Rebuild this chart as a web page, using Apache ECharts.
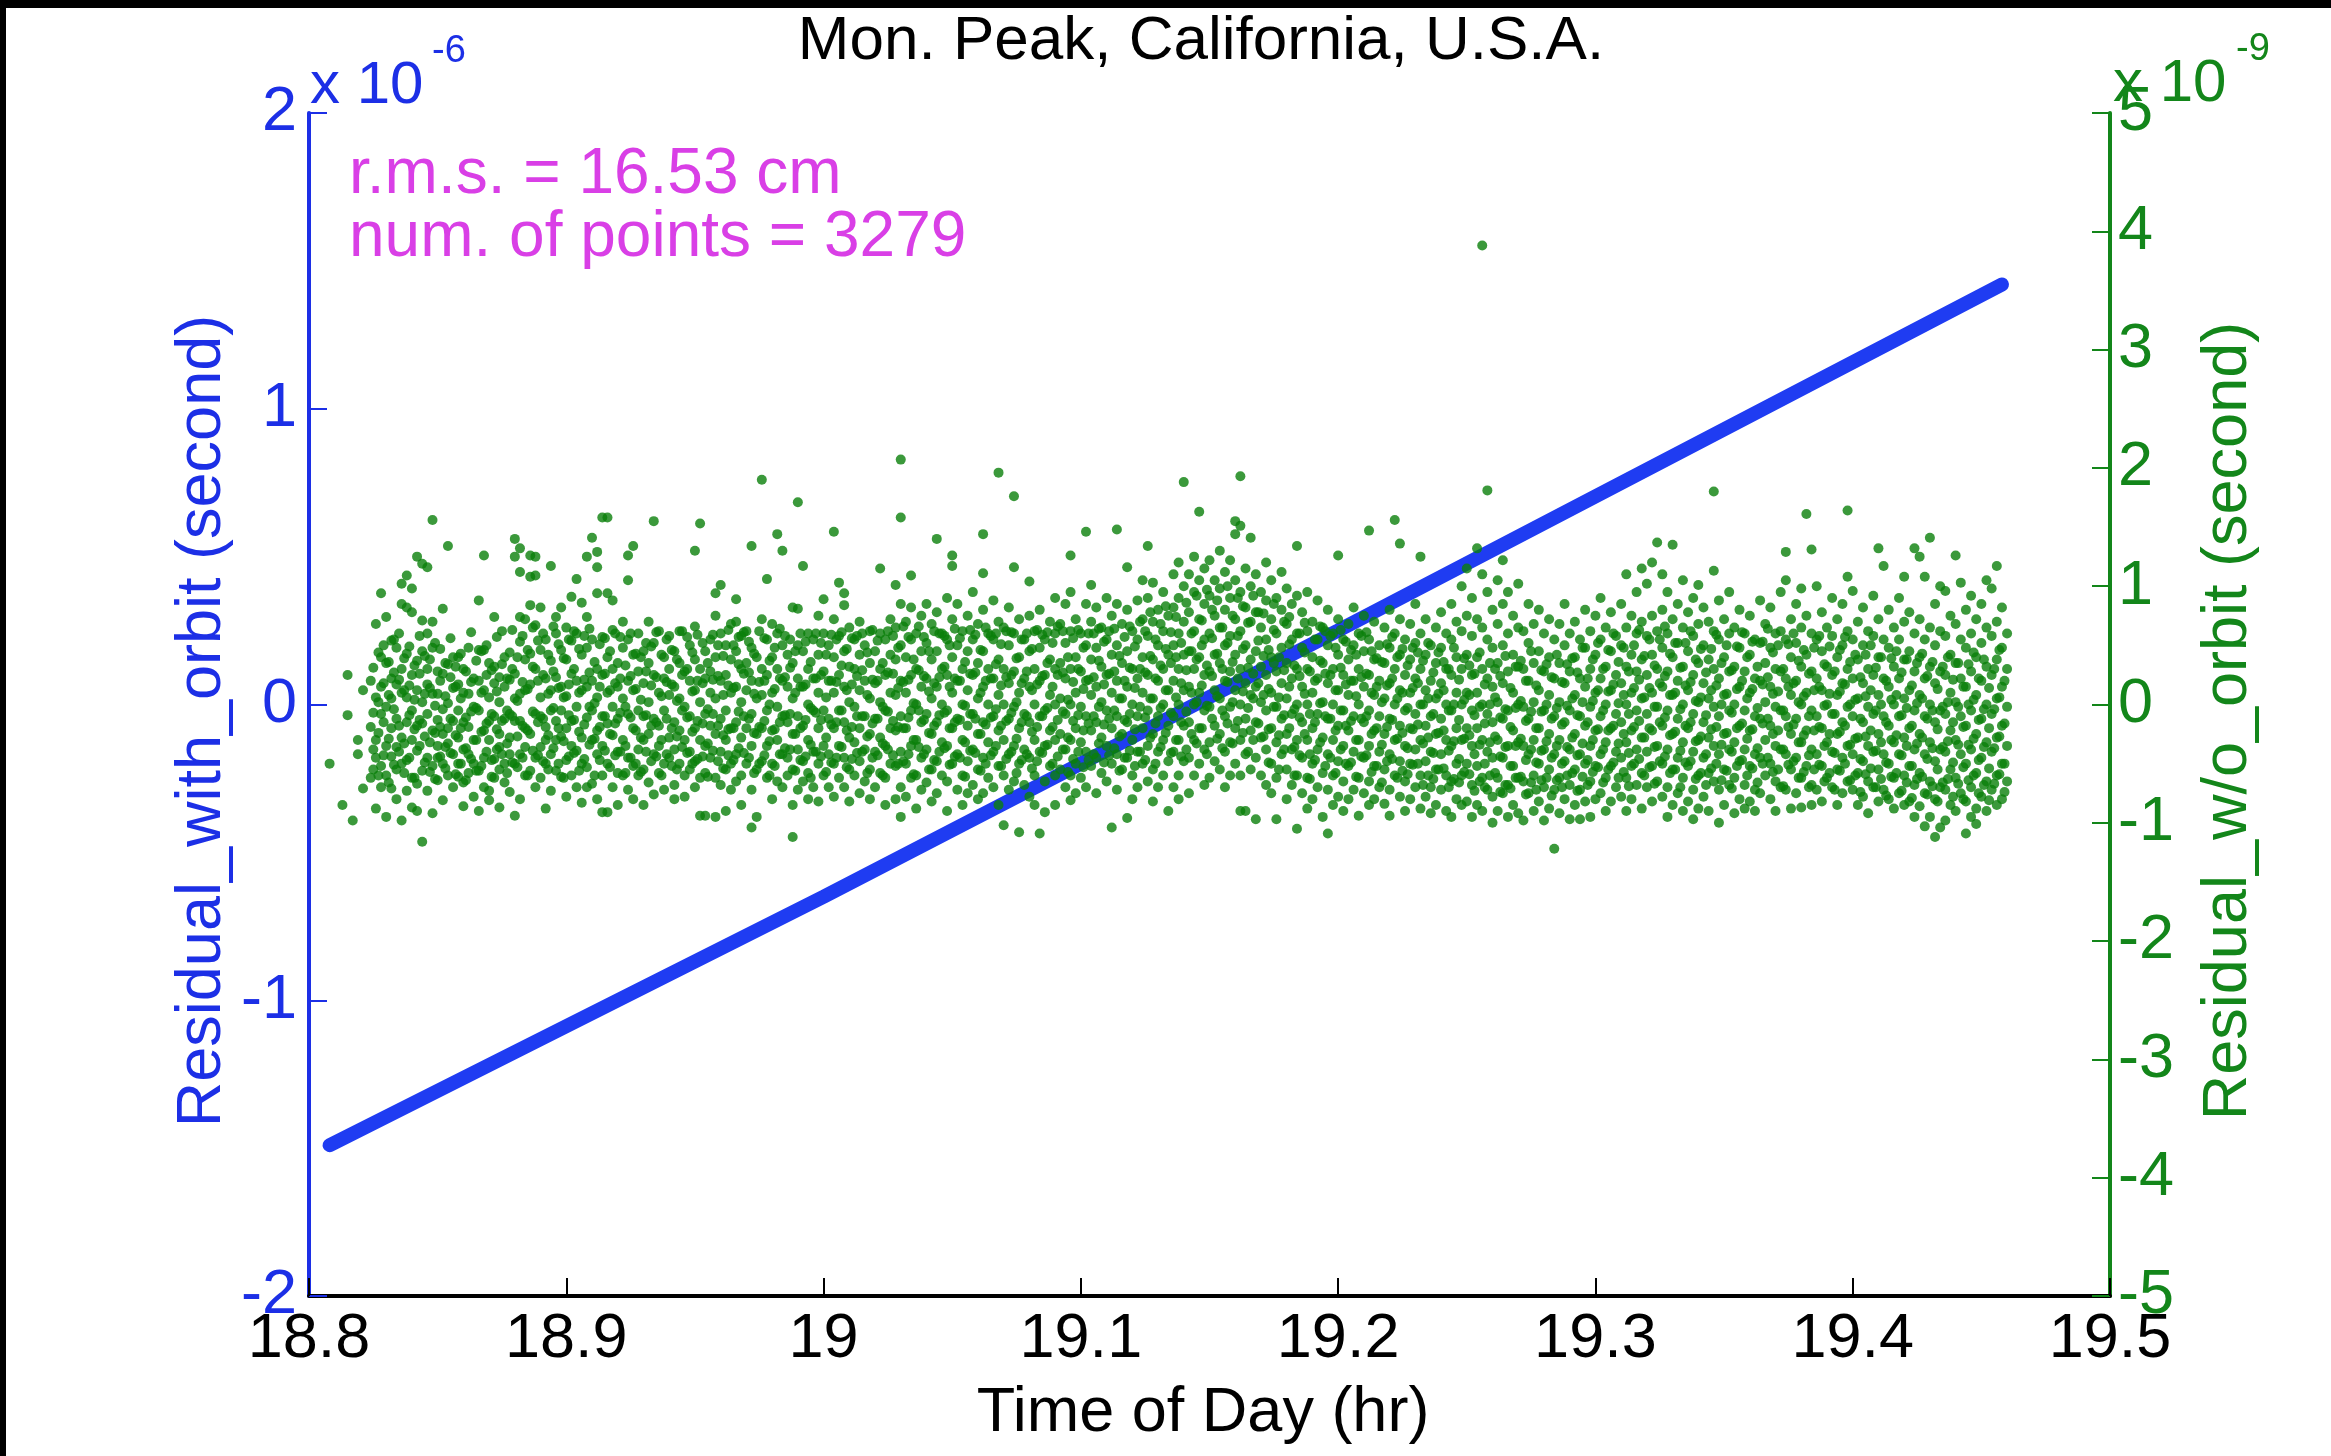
<!DOCTYPE html>
<html><head><meta charset="utf-8">
<script src="https://cdn.jsdelivr.net/npm/echarts/dist/echarts.min.js"></script>
<style>html,body{margin:0;padding:0;background:#fff}#c{width:2331px;height:1456px}</style>
</head><body><div id="c"></div>
<script>
// ---- data ----
const titleText = 'Mon. Peak, California, U.S.A.';
const xAxisName = 'Time of Day (hr)';
const leftAxisName = 'Residual_with_orbit (second)';
const rightAxisName = 'Residual_w/o_orbit (second)';
const xTickValues = [18.8, 18.9, 19, 19.1, 19.2, 19.3, 19.4, 19.5];      // hr
const leftTickValues = [-2, -1, 0, 1, 2];                                  // x 1e-6 s
const rightTickValues = [-5, -4, -3, -2, -1, 0, 1, 2, 3, 4, 5];            // x 1e-9 s
const statsLines = ['r.m.s. = 16.53 cm', 'num. of points = 3279'];

// residual with orbit (x 1e-6 s) vs time of day (hr)
const withOrbitTimeHr = [18.808, 19.0, 19.2, 19.458];
const withOrbitResidualUs = [-1.49, -0.65, 0.25, 1.42];

// residual without orbit (x 1e-9 s): [time hr, [residuals read at that time]]
const woOrbit_18_8 = [
[18.808,[-.5]],[18.813,[-.85]],[18.815,[.25,-.09]],[18.817,[-.98]],[18.819,[-.42,-.3]],[18.821,[.12,-.71]],
[18.824,[.2,-.19,-.62]],[18.826,[.68,.06,-.45,-.3,-.88]],[18.828,[.94,.4,.15,-.08,-.7,-.52]],[18.830,[.74,.35,-.02,-.35,-.95,-.6]],
[18.832,[.54,.22,.05,-.2,-.71,-.44]],[18.834,[.48,.17,-.12,-.36,-.55,-.8]],[18.836,[1.02,.85,.3,.1,-.28,-.98,-.5]],
[18.838,[1.09,.82,.43,.06,-.15,-.47,-.73]],[18.840,[.98,.78,.25,-.05,-.3,-.62,-.87]],[18.842,[1.25,.37,.12,-.39,-.18,-.67,-.9]],
[18.844,[1.19,.71,.45,.02,-.16,-.56,-1.16]],[18.846,[1.16,.6,.3,.17,-.08,-.73,-.45]],[18.848,[1.56,.7,.48,.09,-.22,-.52,-.92]],
[18.850,[.28,.09,-.13,-.45,-.64,-.35]],[18.852,[.81,.26,-.04,-.25,-.5,-.81]],[18.854,[1.34,.34,.01,-.33,-.6,-.2]],
[18.856,[.4,.14,-.14,-.42,-.7]],[18.858,[.4,.17,-.05,-.5,-.61,-.28]],[18.860,[.3,.1,-.15,-.38,-.66,-.86]],
[18.862,[.48,.09,-.19,-.42,-.58]],[18.864,[.22,-.02,-.3,-.78,-.5]],[18.866,[.88,.46,.2,-.05,-.56,-.9]],
[18.868,[1.26,.46,.12,-.22,-.45,-.7]],[18.870,[.06,-.14,-.3,-.73,-.81,.35]],[18.872,[.74,.32,.18,-.1,-.46,-.62]],
[18.874,[.23,-.25,-.36,-.87,.02,-.55]],[18.876,[.4,.15,-.12,-.5,-.66]],[18.878,[.44,.21,-.08,-.28,-.42,-.74]],
[18.880,[1.4,1.25,.26,.05,-.14,-.5,-.94]],[18.882,[1.32,1.12,.74,.53,.09,-.14,-.42,-.8]],[18.884,[.72,.38,.12,-.2,-.36,-.6]],
[18.886,[1.26,1.08,.84,.43,.17,-.25,-.56]],[18.888,[1.25,1.09,.67,.3,-.08,-.45,-.7]],[18.890,[.82,.46,.06,-.1,-.36,-.62]],
[18.892,[.55,.22,-.19,-.3,-.5,-.88]],[18.894,[1.17,.37,.12,-.05,-.42,-.73]],[18.896,[.74,.6,.23,-.14,-.56,-.3]],
[18.898,[.82,.46,.15,-.05,-.27,-.61]],[18.900,[.65,.38,.07,-.2,-.47,-.78]],
[18.825,[.31,-.07,-.38,-.55]],[18.827,[.44,.02,-.24,-.6]],[18.829,[.18,-.15,-.43,.5]],[18.831,[.36,.08,-.29,-.66]],
[18.833,[.27,-.04,-.51,.55]],[18.835,[.6,.21,-.18,-.4]],[18.837,[.12,-.33,-.58,.39]],[18.839,[.49,.16,-.09,-.45]],
[18.841,[.33,-.21,-.62,.04]],[18.843,[.58,.26,-.13,-.35]],[18.845,[.09,-.27,-.49,.41]],[18.847,[.38,.14,-.32,-.57]],
[18.849,[.52,-.01,-.24,-.63]],[18.851,[.2,-.19,-.44,.47]],[18.853,[.35,.07,-.36,-.54]],[18.855,[.56,.23,-.12,-.41]],
[18.857,[.15,-.26,-.59,.32]],[18.859,[.43,.05,-.2,-.5]],[18.861,[.28,-.11,-.37,-.64]],[18.863,[.61,.19,-.06,-.46]],
[18.865,[.37,-.03,-.3,-.56]],[18.867,[.1,-.23,-.52,.45]],[18.869,[.5,.25,-.16,-.4]],[18.871,[.29,-.08,-.47,-.61]],
[18.873,[.57,.11,-.21,-.38]],[18.875,[.34,-.14,-.42,.62]],[18.877,[.22,-.05,-.33,-.58]],[18.879,[.63,.3,-.1,-.49]],
[18.881,[.4,.03,-.27,-.53]],[18.883,[.19,-.18,-.45,.58]],[18.885,[.46,.13,-.22,-.6]],[18.887,[.32,-.06,-.39,.65]],
[18.889,[.54,.2,-.15,-.43]],[18.891,[.25,-.12,-.48,.6]],[18.893,[.42,.09,-.26,-.55]],[18.895,[.66,.28,-.03,-.37]],
[18.897,[.14,-.2,-.5,.51]],[18.899,[.39,.06,-.31,-.62]]
];
const woOrbit_18_9 = [
[18.902,[.91,.54,.26,-.14,-.35,-.6]],[18.904,[1.06,.6,.2,-.02,-.39,-.7]],[18.906,[.86,.42,.12,-.28,-.5,-.83]],
[18.908,[1.25,.74,.48,.15,-.11,-.53,-.7]],[18.910,[1.41,.55,.2,-.05,-.3,-.67]],[18.912,[1.29,1.16,.94,.3,.06,-.22,-.42,-.8]],
[18.914,[1.58,.57,.25,-.1,-.35,-.91,-.6]],[18.916,[1.58,.94,.4,.1,-.16,-.5,-.91]],[18.918,[.88,.63,.3,-.02,-.26,-.7]],
[18.920,[.35,.15,-.12,-.4,-.58,-.85]],[18.922,[.7,.48,.05,-.3,-.6]],[18.924,[1.26,1.05,.55,.2,-.08,-.45,-.72]],
[18.926,[1.34,.42,.12,-.2,-.52,-.8]],[18.928,[.6,.28,-.05,-.38,-.6]],[18.930,[.45,.18,-.1,-.3,-.55,-.85]],
[18.932,[.7,.35,.02,-.25,-.66]],[18.934,[1.55,.52,.25,-.12,-.42,-.76]],[18.936,[.62,.1,-.18,-.35,-.58]],
[18.938,[.4,.22,-.05,-.5,-.72]],[18.940,[.58,.3,.08,-.28,-.45]],[18.942,[.45,.15,-.15,-.38,-.68,-.8]],
[18.944,[.62,.35,.05,-.22,-.5]],[18.946,[.28,-.02,-.3,-.6,-.78]],[18.948,[.5,.2,-.1,-.4,-.55]],
[18.950,[1.3,.66,.38,.12,-.2,-.48,-.7]],[18.952,[1.53,.3,.02,-.3,-.62,-.94]],[18.954,[.45,.22,-.08,-.35,-.58,-.94]],
[18.956,[.55,.28,.1,-.18,-.45]],[18.958,[.94,.75,.4,.05,-.25,-.62,-.95]],[18.960,[1.01,.6,.2,-.12,-.4,-.68]],
[18.962,[.5,.25,-.05,-.3,-.55,-.9]],[18.964,[.68,.38,.1,-.2,-.5,-.72]],[18.966,[.89,.7,.45,.15,-.15,-.42,-.65]],
[18.968,[.58,.3,.02,-.28,-.6,-.85]],[18.970,[.62,.35,.12,-.2,-.5]],[18.972,[1.34,.48,.2,-.08,-.35,-.72,-1.04]],
[18.974,[.4,.05,-.25,-.55,-.95]],[18.976,[1.9,.72,.3,.08,-.2,-.48]],[18.978,[1.06,.55,.25,-.05,-.35,-.62]],
[18.980,[.68,.4,.1,-.22,-.5,-.8]],[18.982,[1.44,.6,.3,-.02,-.3,-.65]],[18.984,[1.3,.5,.2,-.1,-.42,-.7]],
[18.986,[.42,.15,-.15,-.45,-.6]],[18.988,[.82,.35,.05,-.25,-.55,-.85,-1.12]],[18.990,[1.71,.81,.5,.22,-.1,-.38,-.72]],
[18.992,[1.17,.45,.15,-.18,-.48,-.65]],[18.994,[.6,.3,0,-.3,-.58,-.8]],[18.996,[.55,.22,-.05,-.4,-.7]],
[18.998,[.75,.42,.1,-.2,-.5,-.82]],[19.000,[.89,.6,.28,-.05,-.35,-.6]],
[18.901,[.55,.17,-.09,-.44]],[18.903,[.3,-.13,-.41,.62]],[18.905,[.47,.1,-.23,-.56]],[18.907,[.21,-.17,-.46,.58]],
[18.909,[.64,.27,-.02,-.34]],[18.911,[.36,.01,-.29,-.6]],[18.913,[.51,.15,-.19,-.47]],[18.915,[.26,-.1,-.39,.56]],
[18.917,[.45,.12,-.25,-.53]],[18.919,[.18,-.16,-.43,.6]],[18.921,[.57,.22,-.07,-.4]],[18.923,[.33,-.02,-.35,-.58]],
[18.925,[.6,.24,-.11,-.45]],[18.927,[.13,-.22,-.5,.43]],[18.929,[.4,.04,-.28,-.57]],[18.931,[.28,-.09,-.4,.52]],
[18.933,[.49,.16,-.18,-.48]],[18.935,[.23,-.15,-.44,.61]],[18.937,[.42,.07,-.3,-.6]],[18.939,[.55,.19,-.12,-.42]],
[18.941,[.17,-.2,-.52,.46]],[18.943,[.38,.03,-.27,-.55]],[18.945,[.62,.25,-.05,-.36]],[18.947,[.3,-.11,-.41,.57]],
[18.949,[.44,.11,-.23,-.5]],[18.951,[.2,-.14,-.46,.59]],[18.953,[.52,.18,-.16,-.44]],[18.955,[.35,-.04,-.33,-.61]],
[18.957,[.59,.21,-.08,-.39]],[18.959,[.24,-.18,-.48,.5]],[18.961,[.41,.08,-.26,-.54]],[18.963,[.16,-.21,-.43,.63]],
[18.965,[.5,.14,-.2,-.47]],[18.967,[.34,-.06,-.37,.57]],[18.969,[.61,.26,-.1,-.41]],[18.971,[.27,-.12,-.45,.53]],
[18.973,[.43,.09,-.24,-.58]],[18.975,[.19,-.19,-.5,.62]],[18.977,[.56,.2,-.14,-.43]],[18.979,[.37,0,-.31,-.6]],
[18.981,[.48,.13,-.21,-.52]],[18.983,[.22,-.15,-.42,.64]],[18.985,[.58,.23,-.09,-.37]],[18.987,[.31,-.08,-.38,.55]],
[18.989,[.45,.1,-.25,-.56]],[18.991,[.15,-.2,-.47,.6]],[18.993,[.53,.17,-.13,-.44]],[18.995,[.36,-.03,-.34,-.62]],
[18.997,[.6,.22,-.07,-.4]],[18.999,[.25,-.13,-.44,.52]]
];
const woOrbit_19_0 = [
[19.002,[.5,.2,-.12,-.42,-.7]],[19.004,[1.46,.72,.4,.1,-.2,-.5,-.78]],[19.006,[1.03,.58,.25,-.05,-.35,-.62]],
[19.008,[.94,.84,.45,.15,-.15,-.45,-.7]],[19.010,[.65,.32,.02,-.28,-.55,-.82]],[19.012,[.55,.3,-.02,-.32,-.6]],
[19.014,[.7,.42,.12,-.2,-.48,-.75]],[19.016,[.5,.2,-.1,-.38,-.65]],[19.018,[.62,.35,.05,-.25,-.55,-.8]],
[19.020,[.45,.18,-.12,-.4,-.7]],[19.022,[1.15,.6,.3,.02,-.28,-.58]],[19.024,[.55,.25,-.05,-.35,-.62,-.85]],
[19.026,[.72,.42,.1,-.2,-.5]],[19.028,[1.01,.65,.38,.08,-.22,-.52,-.8]],[19.030,[2.07,1.58,.85,.5,.2,-.1,-.4,-.7,-.95]],
[19.032,[.7,.4,.1,-.2,-.5,-.78]],[19.034,[1.09,.82,.55,.25,-.05,-.35,-.62]],[19.036,[.6,.3,0,-.3,-.6,-.88]],
[19.038,[.75,.45,.15,-.15,-.45,-.72]],[19.040,[.85,.52,.22,-.08,-.38,-.66]],[19.042,[.68,.38,.05,-.25,-.55,-.82]],
[19.044,[1.4,.78,.45,.15,-.15,-.48,-.75]],[19.046,[.6,.3,0,-.32,-.6]],[19.048,[.9,.55,.25,-.05,-.35,-.65,-.9]],
[19.050,[1.26,1.17,.72,.4,.1,-.2,-.5]],[19.052,[.85,.5,.2,-.12,-.42,-.72]],[19.054,[.62,.3,0,-.3,-.6,-.85]],
[19.056,[.75,.45,.12,-.18,-.48,-.75]],[19.058,[.95,.55,.25,-.08,-.38,-.68]],[19.060,[.68,.35,.05,-.25,-.55,-.8]],
[19.062,[1.44,1.11,.8,.45,.15,-.15,-.45,-.75]],[19.064,[.6,.3,0,-.32,-.62]],[19.066,[.88,.55,.22,-.1,-.4,-.7]],
[19.068,[1.96,.7,.38,.08,-.22,-.52,-.85]],[19.070,[.65,.3,0,-.3,-.6,-1.02]],[19.072,[.82,.5,.18,-.12,-.42,-.72]],
[19.074,[1.76,1.16,.6,.28,-.02,-.35,-.65]],[19.076,[.72,.4,.1,-.2,-.5,-1.08]],[19.078,[.55,.22,-.08,-.38,-.68]],
[19.080,[1.04,.75,.45,.15,-.15,-.45,-.78]],[19.082,[.62,.3,0,-.3,-.6,-.85]],[19.084,[.8,.48,.2,-.1,-.4,-1.09]],
[19.086,[.55,.25,-.05,-.35,-.65,-.91]],[19.088,[.7,.38,.08,-.22,-.52]],[19.090,[.9,.6,.3,0,-.3,-.6,-.85]],
[19.092,[.68,.35,.05,-.25,-.55]],[19.094,[.85,.52,.22,-.08,-.38,-.7]],[19.096,[1.26,.95,.62,.3,0,-.3,-.6,-.81]],
[19.098,[.72,.4,.1,-.2,-.5,-.75]],[19.100,[.6,.28,-.02,-.32,-.62]],
[19.001,[.42,.06,-.28,-.57]],[19.003,[.2,-.17,-.49,.59]],[19.005,[.55,.19,-.15,-.45]],[19.007,[.33,-.05,-.36,.61]],
[19.009,[.47,.12,-.22,-.53]],[19.011,[.17,-.19,-.46,.56]],[19.013,[.58,.24,-.1,-.41]],[19.015,[.29,-.1,-.4,.6]],
[19.017,[.44,.08,-.27,-.58]],[19.019,[.21,-.16,-.45,.63]],[19.021,[.54,.2,-.12,-.43]],[19.023,[.35,-.02,-.33,-.6]],
[19.025,[.62,.27,-.06,-.38]],[19.027,[.26,-.14,-.43,.58]],[19.029,[.48,.14,-.19,-.5]],[19.031,[.19,-.2,-.48,.66]],
[19.033,[.57,.21,-.11,-.42]],[19.035,[.38,.01,-.3,-.59]],[19.037,[.66,.29,-.05,-.36]],[19.039,[.24,-.13,-.42,.57]],
[19.041,[.45,.11,-.24,-.55]],[19.043,[.18,-.18,-.47,.62]],[19.045,[.6,.23,-.09,-.4]],[19.047,[.32,-.07,-.37,.58]],
[19.049,[.5,.15,-.2,-.51]],[19.051,[.22,-.15,-.44,.64]],[19.053,[.56,.2,-.13,-.45]],[19.055,[.36,-.01,-.32,-.61]],
[19.057,[.63,.26,-.08,-.39]],[19.059,[.27,-.12,-.41,.59]],[19.061,[.46,.1,-.25,-.56]],[19.063,[.2,-.17,-.5,.65]],
[19.065,[.58,.22,-.11,-.43]],[19.067,[.34,-.04,-.35,.6]],[19.069,[.51,.16,-.18,-.52]],[19.071,[.23,-.14,-.46,.62]],
[19.073,[.61,.25,-.07,-.4]],[19.075,[.39,.02,-.29,-.58]],[19.077,[.55,.18,-.15,-.47]],[19.079,[.28,-.1,-.42,.6]],
[19.081,[.47,.12,-.23,-.54]],[19.083,[.17,-.19,-.48,.63]],[19.085,[.59,.24,-.1,-.41]],[19.087,[.35,-.03,-.34,.61]],
[19.089,[.52,.15,-.19,-.5]],[19.091,[.25,-.13,-.44,.66]],[19.093,[.62,.27,-.06,-.38]],[19.095,[.4,.04,-.28,-.57]],
[19.097,[.56,.19,-.14,-.46]],[19.099,[.3,-.09,-.4,.63]]
];
const woOrbit_19_1 = [
[19.102,[1.46,.85,.5,.2,-.1,-.4,-.7]],[19.104,[1.01,.7,.38,.08,-.22,-.52]],[19.106,[.82,.48,.15,-.15,-.45,-.75]],
[19.108,[.65,.32,.02,-.28,-.58]],[19.110,[.9,.55,.25,-.05,-.35,-.65]],[19.112,[.75,.42,.1,-.2,-.5,-1.04]],
[19.114,[1.48,.85,.5,.2,-.1,-.42,-.72]],[19.116,[.68,.35,.05,-.25,-.55]],[19.118,[1.16,.8,.45,.15,-.15,-.45,-.96]],
[19.120,[.62,.3,0,-.3,-.6,-.8]],[19.122,[.88,.55,.22,-.1,-.4,-.7]],[19.124,[1.05,.72,.4,.1,-.2,-.5]],
[19.126,[1.34,.9,.58,.25,-.05,-.35,-.65]],[19.128,[1.03,.7,.38,.05,-.25,-.55,-.82]],[19.130,[.8,.5,.2,-.1,-.4,-.7]],
[19.132,[.95,.62,.3,0,-.3,-.6]],[19.134,[.75,.42,.12,-.18,-.48,-.9]],[19.136,[1.1,.82,.5,.2,-.1,-.4,-.7]],
[19.138,[1.2,.9,.6,.3,0,-.3,-.6,-.8]],[19.140,[1.88,1.0,.7,.42,.12,-.18,-.48]],[19.142,[1.1,.78,.45,.15,-.15,-.45,-.75]],
[19.144,[1.25,.95,.62,.3,0,-.3,-.6]],[19.146,[1.63,1.05,.72,.4,.1,-.2,-.5]],[19.148,[1.15,.85,.55,.25,-.05,-.38,-.68]],
[19.150,[1.22,.92,.6,.28,-.02,-.32,-.62]],[19.152,[1.05,.75,.42,.12,-.18,-.48]],[19.154,[1.3,.98,.65,.35,.05,-.25,-.55]],
[19.156,[1.12,.8,.5,.2,-.1,-.4,-.7]],[19.158,[1.22,.9,.58,.28,-.02,-.32,-.6]],[19.160,[1.55,1.44,1.05,.72,.42,.12,-.2,-.5]],
[19.162,[1.93,1.51,.95,.62,.3,0,-.3,-.6,-.9]],[19.164,[1.15,.82,.5,.18,-.12,-.42,-.9]],[19.166,[1.41,1.0,.7,.38,.08,-.22,-.55]],
[19.168,[1.1,.78,.45,.15,-.15,-.45,-.97]],[19.170,[.95,.65,.32,.02,-.28,-.6]],[19.172,[1.2,.88,.55,.25,-.05,-.38,-.68]],
[19.174,[1.05,.72,.4,.1,-.2,-.5,-.75]],[19.176,[.9,.6,.28,-.02,-.32,-.62,-.97]],[19.178,[1.12,.8,.48,.18,-.12,-.42]],
[19.180,[.98,.68,.35,.05,-.25,-.55,-.8]],[19.182,[.85,.55,.22,-.08,-.38,-.68]],[19.184,[1.34,.92,.6,.3,0,-.3,-.6,-1.05]],
[19.186,[.78,.48,.15,-.15,-.45,-.75]],[19.188,[.95,.62,.3,0,-.3,-.62,-.88]],[19.190,[.7,.4,.1,-.2,-.5,-.8]],
[19.192,[.88,.55,.22,-.08,-.38,-.7]],[19.194,[.65,.35,.02,-.28,-.58,-.95]],[19.196,[.8,.5,.18,-.12,-.42,-.72,-1.09]],
[19.198,[.6,.3,0,-.3,-.6,-.85]],[19.200,[1.26,.72,.42,.12,-.18,-.48,-.78]],
[19.101,[.48,.13,-.22,-.53]],[19.103,[.21,-.16,-.47,.6]],[19.105,[.6,.23,-.1,-.42]],[19.107,[.37,-.02,-.33,.64]],
[19.109,[.53,.17,-.17,-.49]],[19.111,[.26,-.12,-.43,.62]],[19.113,[.64,.28,-.05,-.37]],[19.115,[.41,.05,-.27,-.56]],
[19.117,[.57,.2,-.13,-.45]],[19.119,[.31,-.08,-.39,.66]],[19.121,[.49,.14,-.21,-.52]],[19.123,[.3,-.02,-.4,.7]],
[19.125,[.62,.27,-.11,-.47]],[19.127,[.41,.05,-.28,.78]],[19.129,[.22,-.16,-.5,.55]],[19.131,[.68,.33,-.03,-.36]],
[19.133,[.47,.12,-.24,.83]],[19.135,[.35,-.07,-.41,.61]],[19.137,[.74,.4,.06,-.3]],[19.139,[.52,.18,-.15,-.44]],
[19.141,[.86,.29,-.06,-.38]],[19.143,[.6,.45,.1,-.25]],[19.145,[.38,.02,-.33,.92]],[19.147,[.71,.5,.16,-.2]],
[19.149,[.97,.33,-.01,-.42]],[19.151,[.56,.24,-.12,.8]],[19.153,[.88,.43,.07,-.29]],[19.155,[.65,.3,-.05,-.37]],
[19.157,[1.0,.52,.19,-.16]],[19.159,[.75,.36,.02,-.33]],[19.161,[.58,.22,-.14,.9]],[19.163,[.83,.47,.11,-.24]],
[19.165,[.69,.31,-.03,-.4]],[19.167,[.92,.26,.05,-.3]],[19.169,[.54,.18,-.16,.78]],[19.171,[.77,.41,.08,-.27]],
[19.173,[.46,.13,-.21,-.49]],[19.175,[.63,.35,-.02,.85]],[19.177,[.4,.06,-.26,-.55]],[19.179,[.7,.29,-.09,-.38]],
[19.181,[.51,.15,-.2,.74]],[19.183,[.33,-.04,-.36,-.6]],[19.185,[.6,.24,-.11,-.43]],[19.187,[.44,.09,-.25,.69]],
[19.189,[.28,-.08,-.42,-.63]],[19.191,[.55,.2,-.15,-.47]],[19.193,[.37,.01,-.32,.66]],[19.195,[.62,.26,-.1,-.52]],
[19.197,[.25,-.12,-.45,.58]],[19.199,[.48,.12,-.22,-.58]]
];
const woOrbit_19_2 = [
[19.202,[.55,.25,-.05,-.35,-.65,-.9]],[19.204,[.68,.38,.08,-.22,-.52,-.8]],[19.206,[.82,.5,.2,-.1,-.4,-.72]],
[19.208,[.6,.3,0,-.3,-.62,-.94]],[19.210,[.75,.45,.15,-.15,-.45,-.75]],[19.212,[1.47,.55,.25,-.05,-.35,-.65,-.85]],
[19.214,[.7,.38,.08,-.22,-.52,-.8]],[19.216,[.5,.2,-.1,-.4,-.7]],[19.218,[.65,.35,.05,-.25,-.55,-.84]],
[19.220,[.8,.48,.18,-.12,-.42,-.72,-.94]],[19.222,[1.56,.6,.3,0,-.3,-.6]],[19.224,[1.36,.72,.42,.12,-.18,-.48,-.78]],
[19.226,[.55,.25,-.05,-.35,-.65,-.9]],[19.228,[.68,.38,.1,-.2,-.5,-.8]],[19.230,[.85,.52,.22,-.08,-.38,-.7]],
[19.232,[1.25,.6,.3,0,-.3,-.6,-.88]],[19.234,[.72,.42,.12,-.18,-.48,-.78]],[19.236,[.5,.2,-.1,-.4,-.7,-.92]],
[19.238,[.65,.35,.05,-.25,-.55,-.85]],[19.240,[.78,.48,.18,-.12,-.42,-.72]],[19.242,[.6,.3,0,-.3,-.6,-.9]],
[19.244,[.85,.55,.25,-.05,-.35,-.65,-.95]],[19.246,[.7,.4,.1,-.2,-.5,-.8]],[19.248,[1.0,.62,.3,0,-.3,-.6,-.85]],
[19.250,[1.15,.75,.42,.1,-.2,-.5,-.82]],[19.252,[.9,.58,.25,-.05,-.35,-.68,-.95]],[19.254,[1.32,.72,.4,.1,-.2,-.52,-.85]],
[19.256,[3.88,1.1,.65,.3,0,-.3,-.62,-.9]],[19.258,[1.81,.95,.55,.22,-.08,-.4,-.72]],[19.260,[.8,.48,.15,-.15,-.45,-.78,-1.0]],
[19.262,[1.05,.68,.35,.02,-.3,-.62,-.9]],[19.264,[1.22,.85,.5,.18,-.12,-.45,-.75]],[19.266,[.95,.6,.28,-.05,-.35,-.68,-.95]],
[19.268,[.75,.42,.1,-.22,-.52,-.85]],[19.270,[1.02,.65,.32,0,-.32,-.62,-.92]],[19.272,[.62,.3,-.02,-.35,-.65,-.98]],
[19.274,[.85,.52,.2,-.12,-.42,-.75]],[19.276,[.68,.35,.02,-.3,-.6,-.9]],[19.278,[.8,.45,.12,-.2,-.5,-.82]],
[19.280,[.6,.28,-.05,-.38,-.7,-.98]],[19.282,[.72,.4,.08,-.25,-.55,-.88]],[19.284,[.55,.22,-.1,-.42,-.72,-1.22]],
[19.286,[.68,.35,.02,-.3,-.62,-.92]],[19.288,[.85,.5,.18,-.15,-.48,-.8]],[19.290,[.6,.28,-.05,-.38,-.68,-.97]],
[19.292,[.7,.4,.08,-.25,-.55,-.85]],[19.294,[.55,.22,-.1,-.42,-.72,-.97]],[19.296,[.8,.48,.15,-.18,-.5,-.82]],
[19.298,[.62,.3,-.02,-.35,-.65,-.95]],[19.300,[.75,.42,.1,-.22,-.52,-.8]],
[19.201,[.31,-.05,-.38,.63]],[19.203,[.53,.17,-.18,-.5]],[19.205,[.2,-.14,-.49,.46]],[19.207,[.42,.07,-.3,-.61]],
[19.209,[.58,.23,-.12,-.44]],[19.211,[.26,-.1,-.43,.61]],[19.213,[.45,.1,-.25,-.57]],[19.215,[.15,-.2,-.52,.39]],
[19.217,[.36,.02,-.34,-.66]],[19.219,[.51,.16,-.19,-.48]],[19.221,[.22,-.13,-.46,.57]],[19.223,[.4,.05,-.29,-.62]],
[19.225,[.1,-.24,-.56,.47]],[19.227,[.33,-.03,-.37,-.59]],[19.229,[.48,.14,-.21,-.51]],[19.231,[.18,-.17,-.5,.44]],
[19.233,[.37,0,-.33,-.68]],[19.235,[.05,-.28,-.6,.52]],[19.237,[.27,-.08,-.41,-.63]],[19.239,[.44,.09,-.24,-.55]],
[19.241,[.12,-.22,-.54,.36]],[19.243,[.3,-.05,-.39,-.7]],[19.245,[0,-.31,-.63,.48]],[19.247,[.21,-.13,-.46,-.66]],
[19.249,[.39,.04,-.29,-.57]],[19.251,[.08,-.26,-.59,.33]],[19.253,[.26,-.09,-.42,-.73]],[19.255,[-.02,-.34,-.65,.44]],
[19.257,[.17,-.16,-.5,-.7]],[19.259,[.35,0,-.32,-.6]],[19.261,[.06,-.27,-.58,.3]],[19.263,[.24,-.11,-.44,-.74]],
[19.265,[-.04,-.36,-.68,.41]],[19.267,[.14,-.19,-.52,-.71]],[19.269,[.32,-.03,-.35,-.62]],[19.271,[.03,-.29,-.61,.37]],
[19.273,[.2,-.14,-.47,-.76]],[19.275,[-.06,-.38,-.66,.45]],[19.277,[.16,-.2,-.49,-.72]],[19.279,[.29,-.06,-.39,-.64]],
[19.281,[0,-.31,-.62,.34]],[19.283,[.23,-.12,-.45,-.77]],[19.285,[-.03,-.35,-.64,.42]],[19.287,[.19,-.17,-.5,-.7]],
[19.289,[.34,-.01,-.36,-.6]],[19.291,[.05,-.28,-.58,.39]],[19.293,[.27,-.09,-.43,-.73]],[19.295,[.02,-.33,-.61,.48]],
[19.297,[.22,-.15,-.47,-.68]],[19.299,[.38,.03,-.3,-.57]]
];
const woOrbit_19_3 = [
[19.302,[.9,.55,.22,-.1,-.42,-.75]],[19.304,[.65,.32,0,-.32,-.62,-.9]],[19.306,[.78,.45,.12,-.2,-.52,-.82]],
[19.308,[.58,.25,-.08,-.4,-.7]],[19.310,[.85,.5,.18,-.15,-.45,-.78]],[19.312,[1.1,.65,.32,0,-.32,-.62,-.9]],
[19.314,[.75,.42,.1,-.22,-.52,-.8]],[19.316,[.95,.6,.28,-.05,-.38,-.68]],[19.318,[1.15,.7,.38,.05,-.28,-.58,-.88]],
[19.320,[1.02,.58,.25,-.08,-.4,-.7]],[19.322,[1.2,.75,.42,.1,-.22,-.52,-.82]],[19.324,[1.37,.62,.3,-.02,-.35,-.65]],
[19.326,[1.1,.8,.48,.15,-.18,-.5,-.78]],[19.328,[.95,.6,.28,-.05,-.38,-.7,-.95]],[19.330,[1.35,.72,.4,.08,-.25,-.55,-.85]],
[19.332,[.85,.52,.2,-.12,-.45,-.75]],[19.334,[1.05,.65,.32,0,-.32,-.62,-.9]],[19.336,[.78,.45,.12,-.2,-.52,-.82]],
[19.338,[.9,.58,.25,-.08,-.4,-.72,-.97]],[19.340,[1.01,.68,.35,.02,-.3,-.6,-.88]],[19.342,[.82,.5,.18,-.15,-.45,-.78]],
[19.344,[.7,.38,.05,-.28,-.58,-.9]],[19.346,[1.8,1.13,.62,.3,-.02,-.35,-.65]],[19.348,[.88,.55,.22,-.1,-.42,-.72,-1.0]],
[19.350,[.72,.4,.08,-.25,-.55,-.85]],[19.352,[.95,.6,.28,-.05,-.38,-.68]],[19.354,[.65,.32,0,-.32,-.62,-.92]],
[19.356,[.8,.48,.15,-.18,-.48,-.8]],[19.358,[.6,.28,-.05,-.38,-.68,-.88]],[19.360,[.75,.42,.1,-.22,-.52,-.82]],
[19.362,[.55,.22,-.1,-.42,-.72,-.9]],[19.364,[.88,.52,.2,-.12,-.45,-.75]],[19.366,[.68,.35,.02,-.3,-.6]],
[19.368,[.82,.48,.15,-.18,-.5,-.8]],[19.370,[.6,.3,-.02,-.35,-.65,-.9]],[19.372,[.95,.62,.28,-.05,-.38,-.7]],
[19.374,[1.29,1.05,.55,.22,-.1,-.42,-.72]],[19.376,[.72,.4,.08,-.25,-.55,-.88]],[19.378,[.85,.52,.2,-.12,-.45,-.75]],
[19.380,[.98,.65,.32,0,-.32,-.62,-.87]],[19.382,[1.61,.75,.42,.1,-.22,-.52]],[19.384,[1.31,.6,.28,-.05,-.38,-.68,-.85]],
[19.386,[1.0,.55,.22,-.1,-.42,-.72]],[19.388,[.78,.45,.12,-.2,-.52,-.82]],[19.390,[.65,.32,0,-.32,-.62]],
[19.392,[.9,.58,.25,-.08,-.4,-.7]],[19.394,[.72,.4,.08,-.25,-.55,-.85]],[19.396,[.85,.5,.18,-.15,-.45,-.75]],
[19.398,[1.64,1.08,.62,.3,-.02,-.35,-.65]],[19.400,[.96,.55,.22,-.1,-.42,-.72]],
[19.301,[.12,-.21,-.53,.52]],[19.303,[.3,-.05,-.38,-.66]],[19.305,[.46,.11,-.22,-.55]],[19.307,[.17,-.18,-.49,.6]],
[19.309,[.36,.01,-.33,-.62]],[19.311,[.08,-.25,-.57,.48]],[19.313,[.28,-.08,-.41,-.69]],[19.315,[.5,.14,-.19,-.5]],
[19.317,[.21,-.14,-.46,.63]],[19.319,[.41,.06,-.28,-.6]],[19.321,[.14,-.2,-.53,.55]],[19.323,[.33,-.02,-.36,-.67]],
[19.325,[.55,.18,-.15,-.48]],[19.327,[.24,-.11,-.44,.66]],[19.329,[.43,.08,-.26,-.58]],[19.331,[.1,-.23,-.55,.52]],
[19.333,[.31,-.04,-.39,-.7]],[19.335,[.52,.16,-.18,-.49]],[19.337,[.19,-.15,-.48,.62]],[19.339,[.38,.03,-.31,-.63]],
[19.341,[.06,-.27,-.58,.47]],[19.343,[.27,-.09,-.42,-.68]],[19.345,[.47,.12,-.21,-.54]],[19.347,[.16,-.19,-.5,.59]],
[19.349,[.35,0,-.34,-.64]],[19.351,[.09,-.24,-.56,.5]],[19.353,[.29,-.07,-.4,-.71]],[19.355,[.49,.13,-.2,-.52]],
[19.357,[.2,-.16,-.47,.61]],[19.359,[.4,.05,-.29,-.6]],[19.361,[.13,-.21,-.54,.53]],[19.363,[.32,-.03,-.37,-.66]],
[19.365,[.53,.17,-.16,-.5]],[19.367,[.23,-.12,-.45,.64]],[19.369,[.44,.09,-.25,-.57]],[19.371,[.11,-.22,-.55,.5]],
[19.373,[.3,-.05,-.38,-.69]],[19.375,[.51,.15,-.19,-.51]],[19.377,[.18,-.17,-.48,.6]],[19.379,[.37,.02,-.32,-.62]],
[19.381,[.07,-.26,-.57,.46]],[19.383,[.26,-.1,-.43,-.7]],[19.385,[.48,.12,-.22,-.55]],[19.387,[.15,-.19,-.51,.58]],
[19.389,[.34,-.01,-.35,-.65]],[19.391,[.09,-.25,-.58,.49]],[19.393,[.28,-.08,-.41,-.72]],[19.395,[.46,.11,-.23,-.56]],
[19.397,[.17,-.18,-.5,.57]],[19.399,[.36,0,-.34,-.64]]
];
const woOrbit_19_4 = [
[19.402,[.7,.38,.05,-.28,-.58,-.85]],[19.404,[.82,.5,.18,-.15,-.48,-.78]],[19.406,[.62,.3,-.02,-.35,-.65,-.92]],
[19.408,[.92,.58,.25,-.08,-.4,-.7]],[19.410,[1.32,.72,.4,.08,-.25,-.55,-.82]],[19.412,[1.17,.55,.22,-.1,-.42,-.72]],
[19.414,[.8,.48,.15,-.18,-.5,-.8]],[19.416,[.65,.32,0,-.32,-.62,-.88]],[19.418,[.9,.55,.22,-.1,-.42,-.75]],
[19.420,[1.08,.7,.38,.05,-.28,-.6,-.85]],[19.422,[.78,.45,.12,-.2,-.52,-.82]],[19.424,[1.32,.6,.28,-.05,-.38,-.68,-.95]],
[19.426,[1.25,.72,.4,.08,-.25,-.58,-.86]],[19.428,[1.08,.55,.22,-.1,-.42,-.75,-1.03]],[19.430,[1.41,.65,.32,0,-.32,-.65,-.95]],
[19.432,[.85,.5,.18,-.15,-.48,-.8,-1.12]],[19.434,[1.0,.62,.28,-.05,-.38,-.7,-1.04]],[19.436,[.96,.58,.25,-.08,-.4,-.72,-.98]],
[19.438,[.75,.42,.1,-.22,-.55,-.85]],[19.440,[1.26,.68,.35,.02,-.3,-.62,-.9]],[19.442,[1.03,.55,.22,-.1,-.42,-.75]],
[19.444,[.8,.48,.15,-.18,-.5,-.82,-1.09]],[19.446,[.92,.6,.28,-.05,-.38,-.7,-.95]],[19.448,[.72,.4,.08,-.25,-.58,-.88,-1.01]],
[19.450,[.85,.52,.2,-.12,-.45,-.78]],[19.452,[1.05,.65,.32,0,-.32,-.65,-.9]],[19.454,[.98,.58,.25,-.08,-.4,-.72]],
[19.456,[1.17,.7,.38,.05,-.28,-.6,-.85]],[19.458,[.82,.48,.15,-.18,-.5,-.8]],[19.460,[.6,.3,-.02,-.35,-.65]],
[19.401,[.04,-.29,-.6,.42]],[19.403,[.23,-.12,-.46,-.74]],[19.405,[.42,.07,-.27,-.59]],[19.407,[.12,-.22,-.54,.5]],
[19.409,[.31,-.05,-.39,-.7]],[19.411,[0,-.32,-.63,.4]],[19.413,[.2,-.15,-.49,-.77]],[19.415,[.39,.04,-.3,-.61]],
[19.417,[.08,-.26,-.58,.45]],[19.419,[.27,-.09,-.43,-.73]],[19.421,[-.03,-.35,-.66,.38]],[19.423,[.16,-.18,-.52,-.79]],
[19.425,[.35,.01,-.33,-.63]],[19.427,[.05,-.28,-.61,.43]],[19.429,[.24,-.12,-.46,-.76]],[19.431,[-.05,-.37,-.69,.36]],
[19.433,[.13,-.21,-.55,-.82]],[19.435,[.32,-.02,-.36,-.66]],[19.437,[.02,-.31,-.63,.4]],[19.439,[.21,-.15,-.49,-.78]],
[19.441,[-.02,-.34,-.67,.35]],[19.443,[.15,-.19,-.53,-.8]],[19.445,[.34,0,-.34,-.64]],[19.447,[.04,-.29,-.6,.44]],
[19.449,[.22,-.13,-.47,-.75]],[19.451,[-.04,-.36,-.68,.38]],[19.453,[.14,-.2,-.54,-.81]],[19.455,[.3,-.04,-.37,-.67]],
[19.457,[.06,-.27,-.59,.46]],[19.459,[.2,-.16,-.5,-.74]]
];

// ---- build ----
const woOrbitPoints = [];
[woOrbit_18_8, woOrbit_18_9, woOrbit_19_0, woOrbit_19_1, woOrbit_19_2, woOrbit_19_3, woOrbit_19_4].forEach(seg =>
  seg.forEach(([t, vals]) => vals.forEach(v => woOrbitPoints.push([t, v]))));
const withOrbitPoints = withOrbitTimeHr.map((t, i) => [t, withOrbitResidualUs[i]]);

const FONT = '"Liberation Sans", Arial, Helvetica, sans-serif';
const BLUE = '#1c2fe6', BLUE_LINE = '#1f3cf2', GREEN = '#13861a', DOT = '#0a7f0a', MAG = '#d93fe6';
const FS = 63;

const chart = echarts.init(document.getElementById('c'), null, {renderer: 'canvas'});
chart.setOption({
  animation: false,
  backgroundColor: '#ffffff',
  grid: {left: 309, right: 221, top: 113, bottom: 160, containLabel: false},
  xAxis: {
    type: 'value', min: xTickValues[0], max: xTickValues[xTickValues.length - 1], interval: 0.1,
    axisLine: {onZero: false, lineStyle: {color: '#000', width: 4}},
    axisTick: {inside: true, length: 18, lineStyle: {color: '#000', width: 2}},
    axisLabel: {fontFamily: FONT, fontSize: FS, color: '#000', margin: 12,
      formatter: v => String(+v.toFixed(1))},
    splitLine: {show: false}
  },
  yAxis: [{
    type: 'value', position: 'left', min: leftTickValues[0], max: leftTickValues[leftTickValues.length - 1], interval: 1,
    axisLine: {onZero: false, lineStyle: {color: BLUE, width: 4}},
    axisTick: {inside: true, length: 18, lineStyle: {color: BLUE, width: 2}},
    axisLabel: {fontFamily: FONT, fontSize: FS, color: BLUE, margin: 12},
    splitLine: {show: false}
  }, {
    type: 'value', position: 'right', min: rightTickValues[0], max: rightTickValues[rightTickValues.length - 1], interval: 1,
    axisLine: {onZero: false, lineStyle: {color: GREEN, width: 4}},
    axisTick: {inside: true, length: 18, lineStyle: {color: GREEN, width: 2}},
    axisLabel: {fontFamily: FONT, fontSize: FS, color: GREEN, margin: 8},
    splitLine: {show: false}
  }],
  series: [{
    type: 'line', yAxisIndex: 0, data: withOrbitPoints, showSymbol: false, z: 2,
    lineStyle: {color: BLUE_LINE, width: 14, cap: 'round'}
  }, {
    type: 'scatter', yAxisIndex: 1, data: woOrbitPoints, symbol: 'circle', symbolSize: 10, z: 3,
    large: false, progressive: 0,
    itemStyle: {color: DOT}
  }],
  graphic: [
    {type: 'rect', shape: {x: 0, y: 0, width: 2331, height: 8}, style: {fill: '#000'}, silent: true},
    {type: 'rect', shape: {x: 0, y: 0, width: 6, height: 1456}, style: {fill: '#000'}, silent: true},
    {type: 'text', x: 1201, y: 42, style: {text: titleText, font: '62px ' + FONT, fill: '#000', align: 'center', verticalAlign: 'middle'}},
    {type: 'text', x: 1203, y: 1414, style: {text: xAxisName, font: FS + 'px ' + FONT, fill: '#000', align: 'center', verticalAlign: 'middle'}},
    {type: 'text', x: 203, y: 721, rotation: Math.PI / 2, style: {text: leftAxisName, font: FS + 'px ' + FONT, fill: BLUE, align: 'center', verticalAlign: 'middle'}},
    {type: 'text', x: 2229, y: 721, rotation: Math.PI / 2, style: {text: rightAxisName, font: FS + 'px ' + FONT, fill: GREEN, align: 'center', verticalAlign: 'middle'}},
    {type: 'text', x: 310, y: 86, style: {text: 'x 10', font: '60px ' + FONT, fill: BLUE, align: 'left', verticalAlign: 'middle'}},
    {type: 'text', x: 432, y: 52, style: {text: '-6', font: '38px ' + FONT, fill: BLUE, align: 'left', verticalAlign: 'middle'}},
    {type: 'text', x: 2113, y: 84, style: {text: 'x 10', font: '60px ' + FONT, fill: GREEN, align: 'left', verticalAlign: 'middle'}},
    {type: 'text', x: 2236, y: 50, style: {text: '-9', font: '38px ' + FONT, fill: GREEN, align: 'left', verticalAlign: 'middle'}},
    {type: 'text', x: 349, y: 175, style: {text: statsLines[0], font: '64px ' + FONT, fill: MAG, align: 'left', verticalAlign: 'middle'}},
    {type: 'text', x: 349, y: 238, style: {text: statsLines[1], font: '64px ' + FONT, fill: MAG, align: 'left', verticalAlign: 'middle'}}
  ]
});
</script></body></html>
